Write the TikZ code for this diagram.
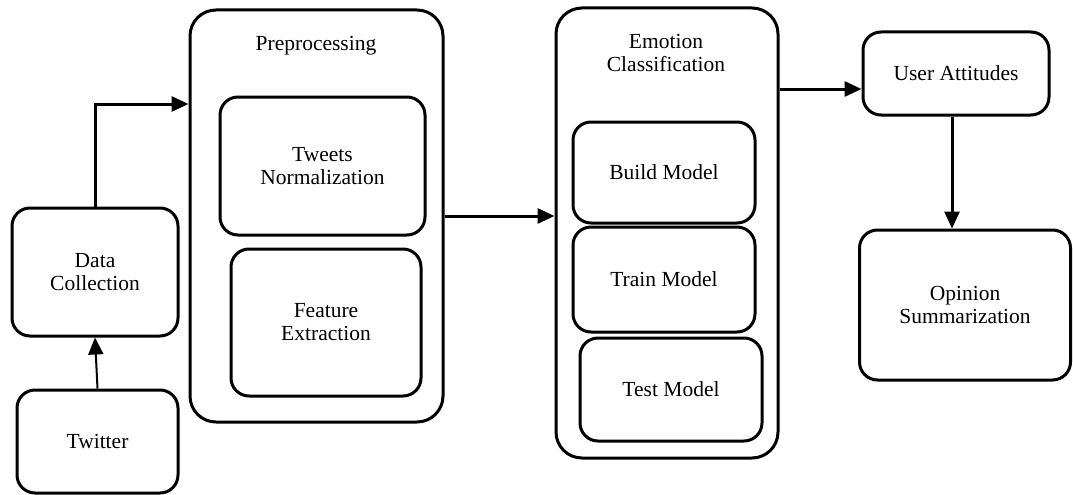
\documentclass[tikz,border=0pt]{standalone}
\usepackage{fontspec}
\setmainfont{Liberation Serif}
\usetikzlibrary{arrows.meta}
\begin{document}
\begin{tikzpicture}[x=1pt,y=-1pt,
  box/.style={draw=black, line width=3pt, rounded corners=18pt, fill=white, align=center,
    inner sep=0pt, font=\fontsize{21.5}{23}\selectfont},
  bigbox/.style={box, rounded corners=26pt},
  title/.style={align=center, font=\fontsize{21.5}{23}\selectfont},
  arr/.style={line width=3pt, -{Triangle[length=17pt,width=15pt]}}]
\useasboundingbox (0,0) rectangle (1073,495);
% left
\node[box, minimum width=166pt, minimum height=128pt] (dc) at (95,272) {Data\\Collection};
\node[box, minimum width=161pt, minimum height=103pt] (tw) at (97.5,441.5) {Twitter};
% preprocessing
\node[bigbox, minimum width=253pt, minimum height=412pt] (pre) at (316.5,216) {};
\node[title] (pret) at (316,46) {Preprocessing};
\node[box, minimum width=205pt, minimum height=138pt] (tn) at (322.5,166) {Tweets\\Normalization};
\node[box, minimum width=190pt, minimum height=147pt] (fe) at (326,322.5) {Feature\\Extraction};
% emotion classification
\node[bigbox, minimum width=222pt, minimum height=450pt] (ec) at (667,233) {};
\node[title] (ect) at (666,53) {Emotion\\Classification};
\node[box, minimum width=182pt, minimum height=101pt] (bm) at (664,172.5) {Build Model};
\node[box, minimum width=182pt, minimum height=105pt] (tm) at (664,279.5) {Train Model};
\node[box, minimum width=182pt, minimum height=103pt] (te) at (671,389.5) {Test Model};
% right
\node[box, minimum width=186pt, minimum height=83pt] (ua) at (956,73.5) {User Attitudes};
\node[box, minimum width=211pt, minimum height=150pt] (os) at (965,305) {Opinion\\Summarization};
\coordinate (uain) at ([yshift=-15.5pt]ua.west);
\coordinate (uaout) at ([xshift=-4pt]ua.south);
\coordinate (prein) at ([yshift=112pt]pre.west);
% connectors
\draw[arr, line width=2pt] (tw.north) -- (dc.south);
\draw[arr] (dc.north) |- (prein);
\draw[arr] (pre.east) -- (ec.west |- pre.east);
\draw[arr] (ec.east |- uain) -- (uain);
\draw[arr] (uaout) -- (uaout |- os.north);
\end{tikzpicture}
\end{document}
